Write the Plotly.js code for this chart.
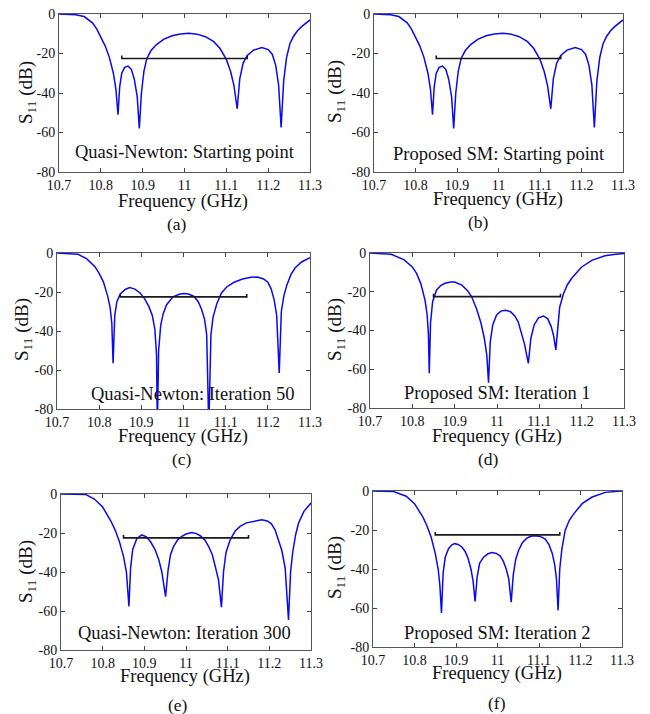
<!DOCTYPE html>
<html>
<head>
<meta charset="utf-8">
<script src="https://cdn.plot.ly/plotly-3.0.1.min.js"></script>
<style>html,body{margin:0;padding:0;background:#fff;}#chart{width:650px;height:714px;}</style>
</head>
<body>
<div id="chart"></div>
<script>
// ---- Data ----
const freqTicks = [10.7, 10.8, 10.9, 11.0, 11.1, 11.2, 11.3];
const freqTickText = ['10.7', '10.8', '10.9', '11', '11.1', '11.2', '11.3'];
const s11Ticks = [0, -20, -40, -60, -80];
const s11TickText = ['0', '-20', '-40', '-60', '-80'];

// Starting point (same response for Quasi-Newton and Proposed SM)
const freqStart = [10.70,10.72,10.74,10.76,10.78,10.79,10.80,10.81,10.82,10.83,10.836,10.841,10.845,10.85,10.857,10.865,10.873,10.88,10.887,10.892,10.897,10.903,10.91,10.92,10.933,10.95,10.97,10.99,11.01,11.03,11.05,11.07,11.085,11.1,11.11,11.118,11.126,11.132,11.14,11.15,11.165,11.185,11.2,11.21,11.218,11.225,11.231,11.237,11.244,11.252,11.26,11.27,11.28,11.29,11.30];
const s11Start = [0,-0.1,-0.4,-1.3,-4.5,-7.5,-11.5,-16,-21.7,-30,-38,-51,-37,-30,-27,-26.4,-28,-33,-42,-58,-40,-29,-22.5,-18.5,-15.5,-12.8,-11,-10.1,-9.8,-10.2,-11.5,-14,-17.5,-23,-29,-36,-48,-33,-25,-21,-18.3,-17,-18,-20.5,-26,-36,-57.5,-34,-22,-15,-11.5,-8.5,-6.4,-4.5,-3];

// Quasi-Newton: Iteration 50
const freqQN50 = [10.70,10.73,10.75,10.77,10.79,10.80,10.81,10.82,10.826,10.83,10.833,10.837,10.842,10.85,10.862,10.872,10.885,10.897,10.908,10.918,10.926,10.932,10.936,10.938,10.941,10.946,10.952,10.96,10.975,10.99,11.0,11.012,11.025,11.035,11.043,11.05,11.055,11.06,11.065,11.07,11.079,11.09,11.103,11.12,11.14,11.16,11.175,11.19,11.2,11.208,11.215,11.221,11.227,11.232,11.238,11.245,11.255,11.265,11.28,11.30];
const s11QN50 = [0,-0.2,-0.7,-2.9,-7,-10.5,-14.8,-22,-28,-36,-56.5,-32,-25,-21,-18.7,-17.7,-18.5,-20.5,-23.5,-27.5,-32,-39,-52,-90,-50,-37,-31,-26.5,-22.5,-21.2,-20.8,-21,-22.3,-25,-29,-34,-42,-90,-42,-33,-26,-20.5,-17.3,-15,-13.3,-12.5,-12.3,-13.3,-15,-18.5,-24,-32,-61.5,-30,-22,-16.5,-11,-7.6,-4.6,-2.4];

// Proposed SM: Iteration 1
const freqSM1 = [10.70,10.73,10.75,10.78,10.80,10.81,10.82,10.83,10.835,10.838,10.84,10.843,10.848,10.857,10.867,10.877,10.89,10.9,10.917,10.93,10.94,10.952,10.962,10.97,10.976,10.98,10.984,10.99,10.999,11.009,11.02,11.032,11.042,11.05,11.058,11.065,11.074,11.08,11.088,11.098,11.11,11.12,11.128,11.134,11.139,11.143,11.148,11.157,11.166,11.176,11.19,11.2,11.224,11.255,11.28,11.30];
const s11SM1 = [0,-0.2,-0.7,-3.4,-7.2,-10.5,-15.8,-24.3,-32,-42,-62,-36,-25,-19.2,-16.8,-15.6,-15,-15,-16.6,-19.3,-22.5,-29,-36,-44,-53,-67,-46,-37,-32,-30,-29.5,-30.3,-32.5,-35.5,-41,-47,-57,-44,-37,-33.5,-32.5,-34,-38,-43,-50,-38,-28,-21,-16.5,-13.2,-9.8,-7.2,-3.8,-1.4,-0.6,-0.3];

// Quasi-Newton: Iteration 300
const freqQN300 = [10.70,10.74,10.76,10.78,10.80,10.82,10.83,10.84,10.85,10.857,10.863,10.867,10.872,10.882,10.894,10.905,10.915,10.926,10.935,10.942,10.951,10.957,10.963,10.97,10.98,10.99,11.0,11.014,11.025,11.034,11.045,11.054,11.063,11.07,11.078,11.085,11.09,11.096,11.106,11.118,11.13,11.145,11.162,11.182,11.195,11.205,11.214,11.222,11.23,11.238,11.246,11.251,11.256,11.263,11.27,11.283,11.292,11.30];
const s11QN300 = [0,-0.1,-0.3,-2.6,-6.7,-14,-18.5,-24.3,-32,-40,-57.7,-38,-28.6,-22.8,-21,-22,-24.5,-28.6,-34,-40,-52.6,-39,-31,-27,-23.5,-21.7,-20.5,-19.8,-20.3,-21.4,-23.5,-26.9,-31,-37,-44,-58,-40,-30,-23.5,-19,-16.6,-14.8,-14,-13.2,-13.8,-15.3,-18.5,-23.5,-29,-38,-64.6,-40,-30,-21,-15,-8.9,-6.3,-4.6];

// Proposed SM: Iteration 2
const freqSM2 = [10.70,10.74,10.75,10.78,10.80,10.82,10.83,10.84,10.85,10.857,10.861,10.865,10.869,10.874,10.882,10.89,10.897,10.905,10.914,10.922,10.929,10.936,10.941,10.946,10.951,10.957,10.967,10.977,10.987,10.997,11.006,11.014,11.021,11.027,11.033,11.038,11.044,11.051,11.06,11.07,11.08,11.091,11.103,11.115,11.124,11.132,11.138,11.142,11.146,11.15,11.155,11.163,11.173,11.184,11.204,11.228,11.26,11.30];
const s11SM2 = [0,-0.1,-0.3,-2.7,-6.5,-13.3,-17.8,-23.6,-32,-40,-48,-62.6,-42,-34,-29.6,-27.6,-27,-27.4,-28.7,-31,-34.5,-40,-46,-56.6,-44,-37,-33.8,-32.2,-31.6,-32,-33.2,-36,-40,-45,-57,-43,-35,-30.4,-26.5,-24.3,-23.2,-22.9,-23.3,-24.6,-27.5,-32,-38,-45,-61.2,-40,-30,-20.2,-15,-11.6,-6.5,-3.1,-0.7,0];

// Specification bracket
const specFreq = [10.85, 10.85, 11.15, 11.15];
const specLevel = [-21, -22.5, -22.5, -21];

const panelText = ['Quasi-Newton: Starting point', 'Proposed SM: Starting point',
                   'Quasi-Newton: Iteration 50', 'Proposed SM: Iteration 1',
                   'Quasi-Newton: Iteration 300', 'Proposed SM: Iteration 2'];
const panelLetter = ['(a)', '(b)', '(c)', '(d)', '(e)', '(f)'];
const xTitle = 'Frequency (GHz)';
const yTitle = 'S<sub>11</sub> (dB)';

// ---- Layout geometry (pixels) ----
const W = 650, H = 714;
const boxes = [
  [59, 310, 14, 172], [374, 623, 14, 172],
  [57, 310, 253, 409], [370, 624, 253, 408],
  [61, 311, 494, 650], [373, 622, 491, 647]
];
const textPos = [[11.0, -70], [11.0, -71], [11.022, -72.3], [11.0, -72.3], [10.997, -71.4], [11.0, -72.6]];
const letterPos = [[177, 224], [478, 222], [182, 459], [488, 459], [178, 705], [497, 703]];
const xTitlePos = [[183, 201], [498, 199], [183, 436], [497, 436], [185, 676], [497, 673]];
const yTitlePos = [[27, 93], [336, 92], [23, 330], [336, 330], [27, 572], [336, 568]];

const curves = [
  [freqStart, s11Start], [freqStart, s11Start],
  [freqQN50, s11QN50], [freqSM1, s11SM1],
  [freqQN300, s11QN300], [freqSM2, s11SM2]
];

const FONT = 'Liberation Serif';
const INK = '#111';
const traces = [];
const layout = {
  width: W, height: H,
  margin: {l: 0, r: 0, t: 0, b: 0},
  paper_bgcolor: '#fff', plot_bgcolor: '#fff',
  showlegend: false,
  font: {family: FONT, color: INK, size: 14},
  annotations: []
};

function paperNote(px, py, text, size, angle) {
  return {
    xref: 'paper', yref: 'paper', x: px / W, y: 1 - py / H,
    xanchor: 'center', yanchor: 'middle', borderpad: 0,
    text: text, showarrow: false, textangle: angle || 0,
    font: {family: FONT, size: size, color: INK}
  };
}

for (let i = 0; i < 6; i++) {
  const n = i === 0 ? '' : String(i + 1);
  const xa = 'x' + n, ya = 'y' + n;
  traces.push({
    x: curves[i][0], y: curves[i][1], xaxis: xa, yaxis: ya,
    type: 'scatter', mode: 'lines',
    line: {color: '#0a0aee', width: 1.5}
  });
  traces.push({
    x: specFreq, y: specLevel, xaxis: xa, yaxis: ya,
    type: 'scatter', mode: 'lines',
    line: {color: '#1a1a1a', width: 1.6}
  });
  const b = boxes[i];
  layout['xaxis' + n] = {
    domain: [b[0] / W, b[1] / W], anchor: ya,
    range: [10.7, 11.3], tickvals: freqTicks, ticktext: freqTickText,
    ticks: 'inside', ticklen: 4, tickcolor: '#444', mirror: 'allticks',
    showline: true, linecolor: '#555', linewidth: 1,
    showgrid: false, zeroline: false,
    tickfont: {family: FONT, size: 14, color: INK}
  };
  layout['yaxis' + n] = {
    domain: [1 - b[3] / H, 1 - b[2] / H], anchor: xa,
    range: [-80, 0], tickvals: s11Ticks, ticktext: s11TickText,
    ticks: 'inside', ticklen: 4, tickcolor: '#444', mirror: 'allticks',
    showline: true, linecolor: '#555', linewidth: 1,
    showgrid: false, zeroline: false,
    tickfont: {family: FONT, size: 14, color: INK}
  };
  layout.annotations.push({
    xref: xa, yref: ya, x: textPos[i][0], y: textPos[i][1],
    xanchor: 'center', yanchor: 'middle', borderpad: 0,
    text: panelText[i], showarrow: false,
    font: {family: FONT, size: 18.5, color: INK}
  });
  layout.annotations.push(paperNote(letterPos[i][0], letterPos[i][1], panelLetter[i], 17.5));
  layout.annotations.push(paperNote(xTitlePos[i][0], xTitlePos[i][1], xTitle, 18.5));
  layout.annotations.push(paperNote(yTitlePos[i][0], yTitlePos[i][1], yTitle, 19, -90));
}

Plotly.newPlot('chart', traces, layout, {staticPlot: true, displayModeBar: false});
</script>
</body>
</html>
